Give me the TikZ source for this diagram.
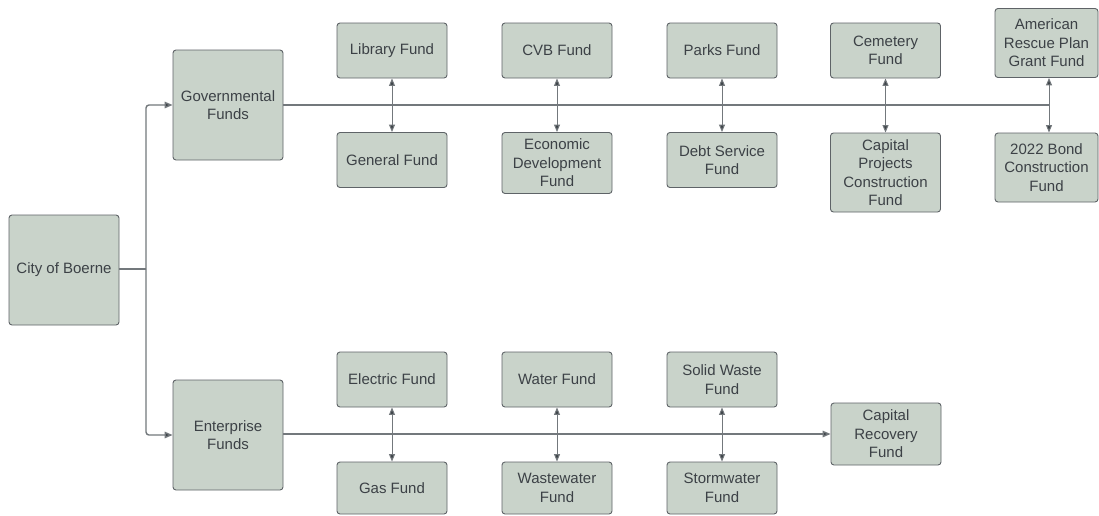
\documentclass[tikz,border=0pt]{standalone}
\usepackage{fontspec}
\setmainfont{Liberation Sans}
\usetikzlibrary{arrows.meta}
\definecolor{boxfill}{HTML}{C9D3CA}
\definecolor{boxline}{HTML}{5E6367}
\definecolor{txt}{HTML}{3C4146}
\definecolor{conn}{HTML}{73787C}
\definecolor{tipc}{HTML}{3E4449}
\begin{document}
\begin{tikzpicture}[x=1pt,y=-1pt,
  fund/.style={draw=boxline, fill=boxfill, line width=0.9pt, rounded corners=3pt,
    text=txt, align=center, font=\fontsize{15}{18.5}\selectfont, inner sep=0pt,
    minimum width=110pt, minimum height=55pt},
  big/.style={fund, minimum height=110pt},
  mainline/.style={draw=conn, line width=1.4pt},
  arr/.style={draw=conn, line width=1pt, -{Triangle[length=7.5pt,width=6pt,fill=tipc]}},
  arrm/.style={draw=conn, line width=1.4pt, -{Triangle[length=8pt,width=6.5pt,fill=tipc]}}
]
\useasboundingbox (0,0) rectangle (1099,515);
\fill[white] (0,0) rectangle (1099,515);

% main boxes
\node[big] (city) at (64,270) {City of Boerne};
\node[big] (gov) at (228,105) {Governmental\\Funds};
\node[big] (ent) at (228,435) {Enterprise\\Funds};

% governmental row
\node[fund] (lib) at (392,50.5) {Library Fund};
\node[fund] (gen) at (392,160) {General Fund};
\node[fund] (cvb) at (557,50.5) {CVB Fund};
\node[fund, minimum height=61pt] (econ) at (557,163) {Economic\\Development\\Fund};
\node[fund] (parks) at (722,50.5) {Parks Fund};
\node[fund] (debt) at (722,160) {Debt Service\\Fund};
\node[fund] (cem) at (885.5,50.5) {Cemetery\\Fund};
\node[fund, minimum height=79pt] (cap) at (885.5,172.5) {Capital\\Projects\\Construction\\Fund};
\node[fund, minimum width=103pt, minimum height=69pt] (arp) at (1046.5,43) {American\\Rescue Plan\\Grant Fund};
\node[fund, minimum width=103pt, minimum height=69pt] (bond) at (1046.5,167.5) {2022 Bond\\Construction\\Fund};

% enterprise row
\node[fund] (elec) at (392,379.5) {Electric Fund};
\node[fund, minimum height=52pt] (gas) at (392,488) {Gas Fund};
\node[fund] (water) at (557,379.5) {Water Fund};
\node[fund, minimum height=52pt] (waste) at (557,488) {Wastewater\\Fund};
\node[fund] (solid) at (722,379.5) {Solid Waste\\Fund};
\node[fund, minimum height=52pt] (storm) at (722,488) {Stormwater\\Fund};
\node[fund, minimum height=62pt] (caprec) at (886,434) {Capital\\Recovery\\Fund};

% junctions
\coordinate (split) at (146,269);
\coordinate (g1) at (392,105);
\coordinate (g2) at (557,105);
\coordinate (g3) at (722,105);
\coordinate (g4) at (885.5,105);
\coordinate (g5) at (1049,105);
\coordinate (e1) at (392,434);
\coordinate (e2) at (557,434);
\coordinate (e3) at (722,434);

% city to fund groups
\draw[mainline] (city.east |- split) -- (split);
\draw[arrm, rounded corners=3pt] (split) |- (gov.west);
\draw[arrm, rounded corners=3pt] (split) |- (ent.west);

% governmental trunk
\draw[mainline] (gov.east) -- (g5);
\foreach \j/\t/\b in {g1/lib/gen, g2/cvb/econ, g3/parks/debt, g4/cem/cap} {
  \draw[arr] (\j) -- (\t.south -| \j);
  \draw[arr] (\j) -- (\b.north -| \j);
}
\draw[arr] (g5) -- (arp.south -| g5);
\draw[arr] (g5) -- (bond.north -| g5);

% enterprise trunk
\draw[arrm] (ent.east |- e1) -- (caprec.west |- e1);
\foreach \j/\t/\b in {e1/elec/gas, e2/water/waste, e3/solid/storm} {
  \draw[arr] (\j) -- (\t.south -| \j);
  \draw[arr] (\j) -- (\b.north -| \j);
}
\end{tikzpicture}
\end{document}
